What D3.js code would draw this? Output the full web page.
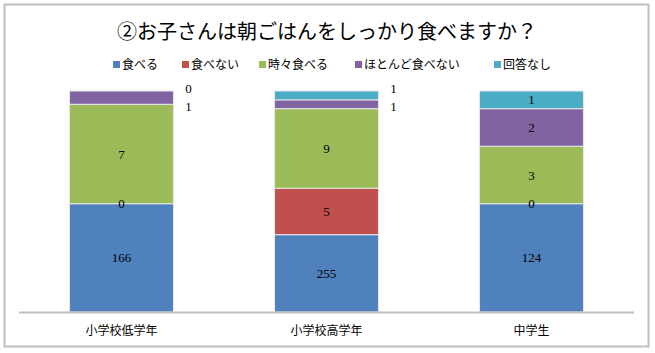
<!DOCTYPE html>
<html>
<head>
<meta charset="utf-8">
<script src="https://cdn.jsdelivr.net/npm/d3@7"></script>
<style>
  body { margin: 0; background: #fff; }
  svg { display: block; }
</style>
</head>
<body>
<svg id="chart"></svg>
<script>
// data
const categories = ['小学校低学年', '小学校高学年', '中学生'];
const seriesNames = ['食べる', '食べない', '時々食べる', 'ほとんど食べない', '回答なし'];
const colors = ['#4F81BD', '#C0504D', '#9BBB59', '#8064A2', '#4BACC6'];
// segment share (%) as drawn
const shares = [
  [49, 0, 45, 6, 0],
  [35, 21, 36, 4, 4],
  [49, 0, 26, 17, 8]
];
// the numbers printed on the segments
const labels = [
  [166, 0, 7, 1, 0],
  [255, 5, 9, 1, 1],
  [124, 0, 3, 2, 1]
];

const width = 655;
const height = 353;
const plot = { left: 19, right: 634, top: 91, bottom: 312 };

const svg = d3.select('#chart').attr('width', width).attr('height', height);

// outer border
svg.append('rect')
  .attr('x', 4.5).attr('y', 4.5)
  .attr('width', 644).attr('height', 342)
  .attr('fill', '#fff')
  .attr('stroke', '#bfbfbf')
  .attr('stroke-width', 2);

// title
svg.append('text')
  .attr('x', 327).attr('y', 39)
  .attr('text-anchor', 'middle')
  .attr('font-family', '"Noto Sans CJK JP", sans-serif')
  .attr('font-size', 20)
  .attr('fill', '#000')
  .text('②お子さんは朝ごはんをしっかり食べますか？');

// legend
const legendX = [113, 182, 259, 355, 494];
const legend = svg.append('g');
seriesNames.forEach((name, i) => {
  legend.append('rect')
    .attr('x', legendX[i]).attr('y', 61)
    .attr('width', 7).attr('height', 7)
    .attr('fill', colors[i]);
  legend.append('text')
    .attr('x', legendX[i] + 9).attr('y', 69)
    .attr('font-family', '"Noto Sans CJK JP", sans-serif')
    .attr('font-size', 12)
    .attr('fill', '#000')
    .text(name);
});

// scales
const x = d3.scaleBand()
  .domain(categories)
  .range([plot.left, plot.right])
  .paddingInner(0.493)
  .paddingOuter(0.2465);

const y = d3.scaleLinear()
  .domain([0, 100])
  .range([plot.bottom, plot.top]);

const rows = categories.map((c, i) => {
  const row = { cat: c };
  seriesNames.forEach((s, j) => { row[s] = shares[i][j]; });
  return row;
});

const stacked = d3.stack().keys(seriesNames)(rows);

// bars
const bars = svg.append('g');
stacked.forEach((layer, j) => {
  bars.selectAll(null)
    .data(layer)
    .enter().append('rect')
    .attr('x', d => x(d.data.cat))
    .attr('y', d => y(d[1]))
    .attr('width', x.bandwidth())
    .attr('height', d => y(d[0]) - y(d[1]))
    .attr('fill', colors[j])
    .attr('stroke', d => (d[1] - d[0]) > 0 ? '#e8e8e8' : 'none')
    .attr('stroke-width', 1);
});

// x axis line
svg.append('line')
  .attr('x1', plot.left).attr('x2', plot.right)
  .attr('y1', plot.bottom + 0.5).attr('y2', plot.bottom + 0.5)
  .attr('stroke', '#bfbfbf')
  .attr('stroke-width', 2);

// category labels
svg.append('g').selectAll('text')
  .data(categories)
  .enter().append('text')
  .attr('x', d => x(d) + x.bandwidth() / 2)
  .attr('y', 335)
  .attr('text-anchor', 'middle')
  .attr('font-family', '"Noto Sans CJK JP", sans-serif')
  .attr('font-size', 12)
  .attr('fill', '#000')
  .text(d => d);

// data labels
const lbl = svg.append('g')
  .attr('font-family', '"Liberation Serif", serif')
  .attr('font-size', 13)
  .attr('fill', '#000');

stacked.forEach((layer, j) => {
  layer.forEach((d, i) => {
    const h = y(d[0]) - y(d[1]);
    const top = y(100);
    const outside = j >= 3 && h < 15;
    let lx, ly;
    if (outside) {
      lx = x(d.data.cat) + x.bandwidth() + 15;
      ly = j === 4 ? top - 3 : top + 15;
    } else {
      lx = x(d.data.cat) + x.bandwidth() / 2;
      ly = (y(d[0]) + y(d[1])) / 2;
    }
    lbl.append('text')
      .attr('x', lx)
      .attr('y', ly)
      .attr('dy', '0.35em')
      .attr('text-anchor', 'middle')
      .text(labels[i][j]);
  });
});
</script>
</body>
</html>
